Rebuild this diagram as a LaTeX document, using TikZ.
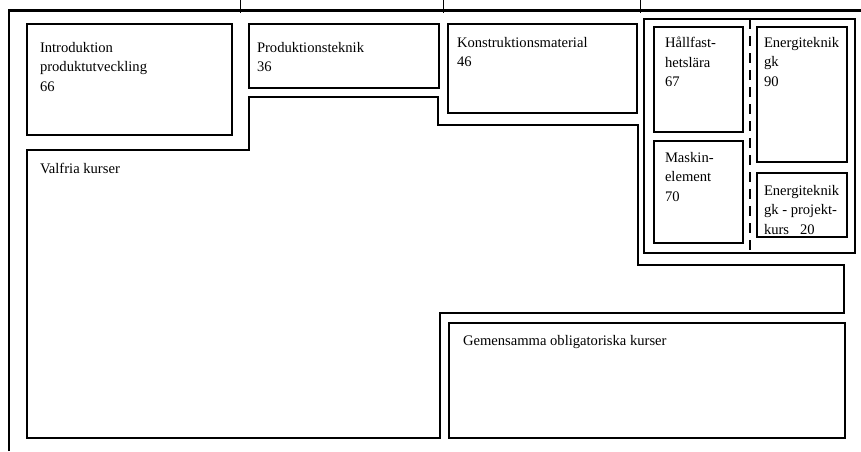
\documentclass[tikz,border=0pt]{standalone}
\usepackage{fontspec}
\setmainfont{Liberation Serif}
\begin{document}
\begin{tikzpicture}[x=1pt,y=-1pt,
  box/.style={draw, line width=2.6pt, inner sep=0pt, outer sep=0pt, anchor=north west},
  grp/.style={draw, line width=2pt, inner sep=0pt, outer sep=0pt, anchor=north west},
  lbl/.style={anchor=north west, inner sep=0pt, outer sep=0pt, align=left, font=\fontsize{14.6}{19.5}\selectfont},
  frame/.style={line width=2.6pt},
  tick/.style={line width=0.8pt},
  sep/.style={line width=2pt, dash pattern=on 10pt off 7pt}
]
\useasboundingbox (0,0) rectangle (861,451);
% outer frame
\coordinate (fbl) at (9,451);
\coordinate (ftl) at (9,10.5);
\coordinate (ftr) at (861,10.5);
\draw[frame] (fbl) -- (ftl) -- (ftr);
\foreach \x/\n in {240/a,443/b,640/c}{
  \coordinate (t\n1) at (\x,0);
  \coordinate (t\n2) at (\x,13);
  \draw[tick] (t\n1) -- (t\n2);
}
% boxes
\node[box, minimum width=205pt, minimum height=111pt] (intro) at (27,24) {};
\node[box, minimum width=190pt, minimum height=64pt] (prod) at (249,24) {};
\node[box, minimum width=189pt, minimum height=89pt] (konstr) at (448,24) {};
\node[grp, minimum width=211pt, minimum height=234pt] (group) at (644,19) {};
\node[box, minimum width=89pt, minimum height=105pt] (hall) at (654,27) {};
\node[box, minimum width=89pt, minimum height=102pt] (mask) at (654,141) {};
\node[box, minimum width=90pt, minimum height=135pt] (egk) at (757,27) {};
\node[box, minimum width=90pt, minimum height=64pt] (eproj) at (757,173) {};
\node[box, minimum width=396pt, minimum height=115pt] (gem) at (449,323) {};
% dashed separator
\coordinate (s1) at (750,19);
\coordinate (s2) at (750,253);
\draw[sep] (s1) -- (s2);
% Valfria region
\draw[frame] (27,438) -- (27,150) -- (249,150) -- (249,97) -- (438,97) -- (438,125)
  -- (638,125) -- (638,265) -- (844,265) -- (844,313) -- (440,313) -- (440,438) -- cycle;
% labels
\node[lbl] (tintro) at (40,42) {Introduktion\\produktutveckling\\66};
\node[lbl] (tprod) at (257,42) {Produktionsteknik\\36};
\node[lbl] (tkonstr) at (457,37) {Konstruktionsmaterial\\46};
\node[lbl] (thall) at (665,37) {Hållfast-\\hetslära\\67};
\node[lbl] (tegk) at (764,37) {Energiteknik\\gk\\90};
\node[lbl] (tmask) at (665,152) {Maskin-\\element\\70};
\node[lbl] (teproj) at (764,185) {Energiteknik\\gk - projekt-\\kurs\hspace{11pt}20};
\node[lbl] (tvalf) at (40,163) {Valfria kurser};
\node[lbl] (tgem) at (463,335) {Gemensamma obligatoriska kurser};
\end{tikzpicture}
\end{document}
